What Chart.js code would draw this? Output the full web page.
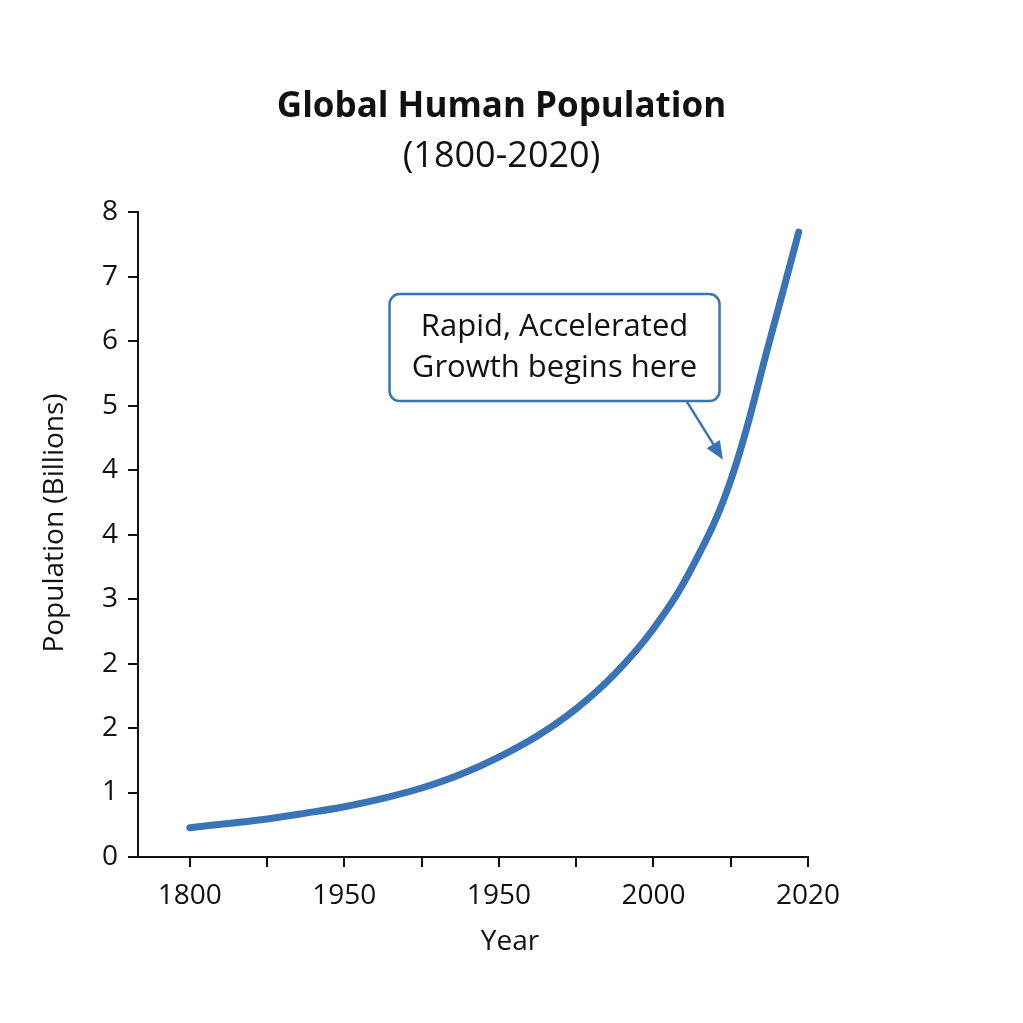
<!DOCTYPE html>
<html>
<head>
<meta charset="utf-8">
<script src="https://cdn.jsdelivr.net/npm/chart.js@4"></script>
<style>
  html, body { margin: 0; padding: 0; background: #fff; }
  #wrap { width: 1023px; height: 1023px; }
</style>
</head>
<body>
<div id="wrap"><canvas id="pop-chart"></canvas></div>
<script>
// tick labels as printed in the picture (odd ones and all)
const xTickLabels = ['1800', '', '1950', '', '1950', '', '2000', '', '2020'];
const yTickLabels = ['0', '1', '2', '2', '3', '4', '4', '5', '6', '7', '8'];

// curve, in tick positions along each axis
const xPos = [0, 0.5, 1, 1.5, 2, 2.5, 3, 3.5, 4, 4.5, 5, 5.5, 6, 6.5, 7, 7.5, 7.88];
const popValues = [0.455, 0.52, 0.59, 0.68, 0.78, 0.91, 1.07, 1.28, 1.55, 1.88, 2.3, 2.84, 3.54, 4.49, 5.84, 7.99, 9.69];

const noteLines = ['Rapid, Accelerated', 'Growth begins here'];
const xTitle = 'Year';
const yTitle = 'Population (Billions)';

const blue = '#3a74b6';
const ink = '#111';
const font = '"Open Sans", "Noto Sans", sans-serif';

const calloutPlugin = {
  id: 'callout',
  afterDatasetsDraw(chart) {
    const { ctx, scales: { x, y } } = chart;
    ctx.save();

    // axis titles
    ctx.fillStyle = ink;
    ctx.font = '28px ' + font;
    ctx.textAlign = 'center';
    ctx.textBaseline = 'middle';
    ctx.fillText(xTitle, 510, 942);
    ctx.translate(55, 523);
    ctx.rotate(-Math.PI / 2);
    ctx.fillText(yTitle, 0, 0);
    ctx.setTransform(1, 0, 0, 1, 0, 0);

    // note box
    const cx = x.getPixelForValue(4.72), cy = y.getPixelForValue(7.9);
    const w = 330, h = 107, r = 10;
    ctx.fillStyle = '#fff';
    ctx.strokeStyle = blue;
    ctx.lineWidth = 2.5;
    ctx.beginPath();
    ctx.roundRect(cx - w / 2, cy - h / 2, w, h, r);
    ctx.fill();
    ctx.stroke();

    ctx.fillStyle = ink;
    ctx.font = '31px ' + font;
    ctx.fillText(noteLines[0], cx, cy - 20);
    ctx.fillText(noteLines[1], cx, cy + 21);

    // arrow
    const sx = cx + 132, sy = cy + h / 2;
    const tx = x.getPixelForValue(6.9), ty = y.getPixelForValue(6.16);
    const ang = Math.atan2(ty - sy, tx - sx);
    const head = 20;
    ctx.strokeStyle = blue;
    ctx.lineWidth = 2.5;
    ctx.beginPath();
    ctx.moveTo(sx, sy);
    ctx.lineTo(tx - Math.cos(ang) * head * 0.8, ty - Math.sin(ang) * head * 0.8);
    ctx.stroke();
    ctx.fillStyle = blue;
    ctx.beginPath();
    ctx.moveTo(tx, ty);
    ctx.lineTo(tx - head * Math.cos(ang - 0.4), ty - head * Math.sin(ang - 0.4));
    ctx.lineTo(tx - head * Math.cos(ang + 0.4), ty - head * Math.sin(ang + 0.4));
    ctx.closePath();
    ctx.fill();
    ctx.restore();
  }
};

document.addEventListener('DOMContentLoaded', () => {
  const ctx = document.getElementById('pop-chart').getContext('2d');
  new Chart(ctx, {
    type: 'line',
    data: {
      datasets: [{
        data: xPos.map((v, i) => ({ x: v, y: popValues[i] })),
        borderColor: blue,
        borderWidth: 7,
        borderCapStyle: 'round',
        borderJoinStyle: 'round',
        pointRadius: 0,
        tension: 0.4,
        fill: false
      }]
    },
    options: {
      responsive: true,
      maintainAspectRatio: false,
      animation: false,
      layout: { padding: { left: 0, right: 20, top: 0, bottom: 0 } },
      plugins: {
        legend: { display: false },
        tooltip: { enabled: false },
        title: {
          display: true,
          text: 'Global Human Population',
          color: ink,
          font: { family: font, size: 35, weight: 'bold' },
          padding: { top: 86, bottom: 0 }
        },
        subtitle: {
          display: true,
          text: '(1800-2020)',
          color: ink,
          font: { family: font, size: 36 },
          padding: { top: 7, bottom: 34 }
        }
      },
      scales: {
        x: {
          type: 'linear',
          min: -0.67,
          max: 8,
          afterBuildTicks: (scale) => {
            scale.ticks = xTickLabels.map((_, i) => ({ value: i }));
          },
          afterFit: (scale) => { scale.height = 1023 - 857; },
          ticks: {
            color: ink,
            font: { family: font, size: 28 },
            padding: 12,
            maxRotation: 0,
            autoSkip: false,
            callback: (v, i) => xTickLabels[i]
          },
          grid: { drawOnChartArea: false, tickLength: 10, color: ink, lineWidth: 2 },
          border: { color: ink, width: 2 }
        },
        y: {
          min: 0,
          max: 10,
          afterBuildTicks: (scale) => {
            scale.ticks = yTickLabels.map((_, i) => ({ value: i }));
          },
          afterFit: (scale) => { scale.width = 138; },
          ticks: {
            color: ink,
            font: { family: font, size: 28 },
            padding: 10,
            autoSkip: false,
            callback: (v, i) => yTickLabels[i]
          },
          grid: { drawOnChartArea: false, tickLength: 10, color: ink, lineWidth: 2 },
          border: { color: ink, width: 2 }
        },
        // empty right-hand margin so the title centres like the original
        spacer: {
          position: 'right',
          afterFit: (scale) => { scale.width = 1023 - 20 - 808; },
          ticks: { display: false },
          grid: { display: false },
          border: { display: false }
        }
      }
    },
    plugins: [calloutPlugin]
  });
});
</script>
</body>
</html>
